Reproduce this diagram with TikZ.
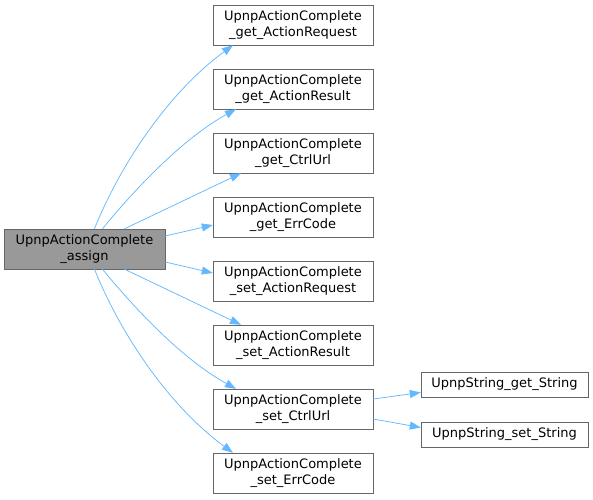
\documentclass[tikz,border=0pt]{standalone}
\usepackage{fontspec}
\setmainfont{DejaVu Sans}
\usetikzlibrary{arrows.meta,calc}
\definecolor{edgeblue}{HTML}{63B8FF}
\definecolor{nodegray}{HTML}{999999}
\definecolor{bordergray}{HTML}{666666}

\begin{document}
\begin{tikzpicture}[x=1pt, y=-1pt,
        fn/.style={rectangle, draw=bordergray, fill=white, minimum width=160pt, minimum height=40pt, font=\fontsize{13pt}{16pt}\selectfont, align=center, inner sep=1pt},
        root/.style={fn, fill=nodegray, minimum width=161pt},
        leaf/.style={fn, minimum width=167pt, minimum height=25pt},
        arrow/.style={-{Triangle[length=11pt, width=8pt, fill=edgeblue]}, draw=edgeblue, line width=0.75pt},
      ]
      \useasboundingbox (0,0) rectangle (593,499);
      % caller
      \node [root] (assign) at (84.5, 249) {UpnpActionComplete\\\_assign};
      % callees
      \node [fn] (getreq) at (293, 25) {UpnpActionComplete\\\_get\_ActionRequest};
      \node [fn] (getres) at (293, 89) {UpnpActionComplete\\\_get\_ActionResult};
      \node [fn] (getctrl) at (293, 153) {UpnpActionComplete\\\_get\_CtrlUrl};
      \node [fn] (geterr) at (293, 217) {UpnpActionComplete\\\_get\_ErrCode};
      \node [fn] (setreq) at (293, 281) {UpnpActionComplete\\\_set\_ActionRequest};
      \node [fn] (setres) at (293, 345) {UpnpActionComplete\\\_set\_ActionResult};
      \node [fn] (setctrl) at (293, 409) {UpnpActionComplete\\\_set\_CtrlUrl};
      \node [fn] (seterr) at (293, 473) {UpnpActionComplete\\\_set\_ErrCode};
      \node [leaf] (strget) at (504.5, 384.5) {UpnpString\_get\_String};
      \node [leaf] (strset) at (504.5, 434.5) {UpnpString\_set\_String};
      % edges
      \draw [arrow] ([xshift=10]assign.north) .. controls (118,170) and (165,95) .. ([xshift=-60]getreq.south);
      \draw [arrow] ([xshift=18]assign.north) .. controls (130,195) and (180,140) .. ([xshift=-57]getres.south);
      \draw [arrow] ([xshift=40]assign.north) -- ([xshift=-52]getctrl.south);
      \draw [arrow] ([yshift=13]assign.east) -- ([yshift=-8]geterr.west);
      \draw [arrow] ([yshift=-13]assign.east) -- ([yshift=8]setreq.west);
      \draw [arrow] ([xshift=40]assign.south) -- ([xshift=-52]setres.north);
      \draw [arrow] ([xshift=18]assign.south) .. controls (130,303) and (180,358) .. ([xshift=-57]setctrl.north);
      \draw [arrow] ([xshift=10]assign.south) .. controls (118,328) and (165,403) .. ([xshift=-60]seterr.north);
      \draw [arrow] ([yshift=10]setctrl.east) -- ([yshift=-8]strget.west);
      \draw [arrow] ([yshift=-10]setctrl.east) -- ([yshift=7]strset.west);
    \end{tikzpicture}
\end{document}
